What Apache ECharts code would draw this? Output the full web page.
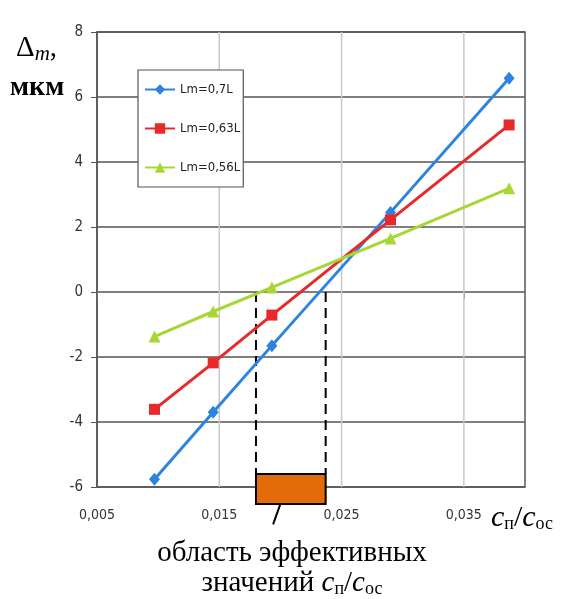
<!DOCTYPE html>
<html><head><meta charset="utf-8">
<script src="https://cdn.jsdelivr.net/npm/echarts@6/dist/echarts.min.js"></script>
<style>html,body{margin:0;padding:0;background:#fff}#c{width:562px;height:599px}</style>
</head><body><div id="c"></div>
<script>
// ---- data ----
const xValues = [0.0097, 0.0145, 0.0193, 0.029, 0.0387];
const seriesNames = ['Lm=0,7L', 'Lm=0,63L', 'Lm=0,56L'];
const blueValues = [-5.76, -3.70, -1.65, 2.45, 6.58];
const redValues = [-3.61, -2.18, -0.71, 2.22, 5.14];
const greenValues = [-1.37, -0.60, 0.14, 1.65, 3.19];
const xLabelTicks = [0.005, 0.015, 0.025, 0.035];
const xGridTicks = [0.015, 0.025, 0.035];
const effectiveRange = [0.018, 0.0237];
const rangeBoxY = [-5.6, -6.52];
const leader = [[0.0200, -6.52], [0.0194, -7.15]];

const narrow = "'DejaVu Sans Condensed','Liberation Sans',sans-serif";
const serif = "'Liberation Serif','DejaVu Serif',serif";
const colors = ['#2C84E0', '#E8282B', '#A6D735'];
const symbols = ['diamond', 'rect', 'triangle'];
const symbolSizes = [[11, 13], 11, 12];
const allValues = [blueValues, redValues, greenValues];

const chart = echarts.init(document.getElementById('c'), null, {renderer: 'canvas'});

const series = [];

// vertical light grid lines
series.push({
  type: 'custom', silent: true, z: 1,
  data: xGridTicks.map(v => [v]),
  renderItem: function (params, api) {
    const a = api.coord([api.value(0), 8]);
    const b = api.coord([api.value(0), -6]);
    return {type: 'line', shape: {x1: a[0], y1: a[1], x2: b[0], y2: b[1]},
      style: {stroke: '#C8C8C8', lineWidth: 1.5}};
  }
});

allValues.forEach((vals, i) => series.push({
  name: seriesNames[i],
  type: 'line',
  data: xValues.map((x, k) => [x, vals[k]]),
  symbol: symbols[i],
  symbolSize: symbolSizes[i],
  showAllSymbol: true,
  lineStyle: {width: 3, color: colors[i]},
  itemStyle: {color: colors[i]},
  z: 4
}));

effectiveRange.forEach((x) => {
  series.push({
    type: 'line', silent: true, symbol: 'none', z: 3,
    data: [[x, 0], [x, rangeBoxY[0]]],
    lineStyle: {color: '#000', width: 2, type: [10, 6]}
  });
});

series.push({
  type: 'line', silent: true, symbol: 'none', clip: false, z: 6,
  data: leader,
  lineStyle: {color: '#000', width: 2}
});

series.push({
  type: 'custom', silent: true, clip: false, z: 5,
  data: [[effectiveRange[0], effectiveRange[1], rangeBoxY[0], rangeBoxY[1]]],
  renderItem: function (params, api) {
    const p1 = api.coord([api.value(0), api.value(2)]);
    const p2 = api.coord([api.value(1), api.value(3)]);
    return {
      type: 'rect',
      shape: {x: p1[0], y: p1[1], width: p2[0] - p1[0], height: p2[1] - p1[1]},
      style: {fill: '#E36C0A', stroke: '#000', lineWidth: 2}
    };
  }
});

const option = {
  animation: false,
  grid: {left: 97, top: 32, right: 37, bottom: 112, show: true, borderColor: '#555', borderWidth: 1.5},
  legend: {
    data: seriesNames,
    orient: 'vertical',
    left: 138, top: 70,
    padding: [13, 3, 13, 6],
    itemGap: 26,
    itemWidth: 30, itemHeight: 13,
    backgroundColor: '#fff',
    borderColor: '#555', borderWidth: 1.2,
    textStyle: {fontFamily: narrow, fontSize: 13, color: '#222'}
  },
  xAxis: {
    type: 'value', min: 0.005, max: 0.04, interval: 0.005,
    axisLine: {show: false},
    axisTick: {show: true, customValues: xLabelTicks, length: 7, lineStyle: {color: '#777'}},
    splitLine: {show: false},
    axisLabel: {
      customValues: xLabelTicks, margin: 21,
      fontFamily: narrow, fontSize: 14, color: '#333',
      formatter: v => v.toFixed(3).replace('.', ',')
    }
  },
  yAxis: {
    type: 'value', min: -6, max: 8, interval: 2,
    axisLine: {show: true, lineStyle: {color: '#555', width: 1.5}},
    axisTick: {show: true, length: 6, lineStyle: {color: '#555'}},
    splitLine: {show: true, lineStyle: {color: '#555', width: 1.5}},
    axisLabel: {margin: 14, fontFamily: narrow, fontSize: 15, color: '#333'}
  },
  graphic: [
    {type: 'text', left: 16, top: 34, style: {
      rich: {
        n: {fontFamily: serif, fontSize: 29, fill: '#000'},
        s: {fontFamily: serif, fontSize: 21, fontStyle: 'italic', fill: '#000', padding: [12, 0, 0, 0]}
      },
      text: '{n|Δ}{s|m}{n|,}'
    }},
    {type: 'text', left: 10, top: 74, style: {text: 'мкм', font: 'bold 28px ' + serif, fill: '#000'}},
    {type: 'text', left: 491, top: 503, style: {
      rich: {
        c: {fontFamily: serif, fontSize: 30, fontStyle: 'italic', fill: '#000'},
        n: {fontFamily: serif, fontSize: 30, fill: '#000'},
        s: {fontFamily: serif, fontSize: 18, fill: '#000', padding: [13, 0, 0, 0]}
      },
      text: '{c|c}{s|п}{n|/}{c|c}{s|ос}'
    }},
    {type: 'text', x: 292, y: 539, style: {text: 'область эффективных', font: '29px ' + serif, fill: '#000', align: 'center', verticalAlign: 'top'}},
    {type: 'text', x: 292, y: 568, style: {
      align: 'center', verticalAlign: 'top',
      rich: {
        n: {fontFamily: serif, fontSize: 29, fill: '#000'},
        c: {fontFamily: serif, fontSize: 29, fontStyle: 'italic', fill: '#000'},
        s: {fontFamily: serif, fontSize: 18, fill: '#000', padding: [12, 0, 0, 0]}
      },
      text: '{n|значений }{c|c}{s|п}{n|/}{c|c}{s|ос}'
    }}
  ],
  series: series
};
chart.setOption(option);
</script>
</body></html>
